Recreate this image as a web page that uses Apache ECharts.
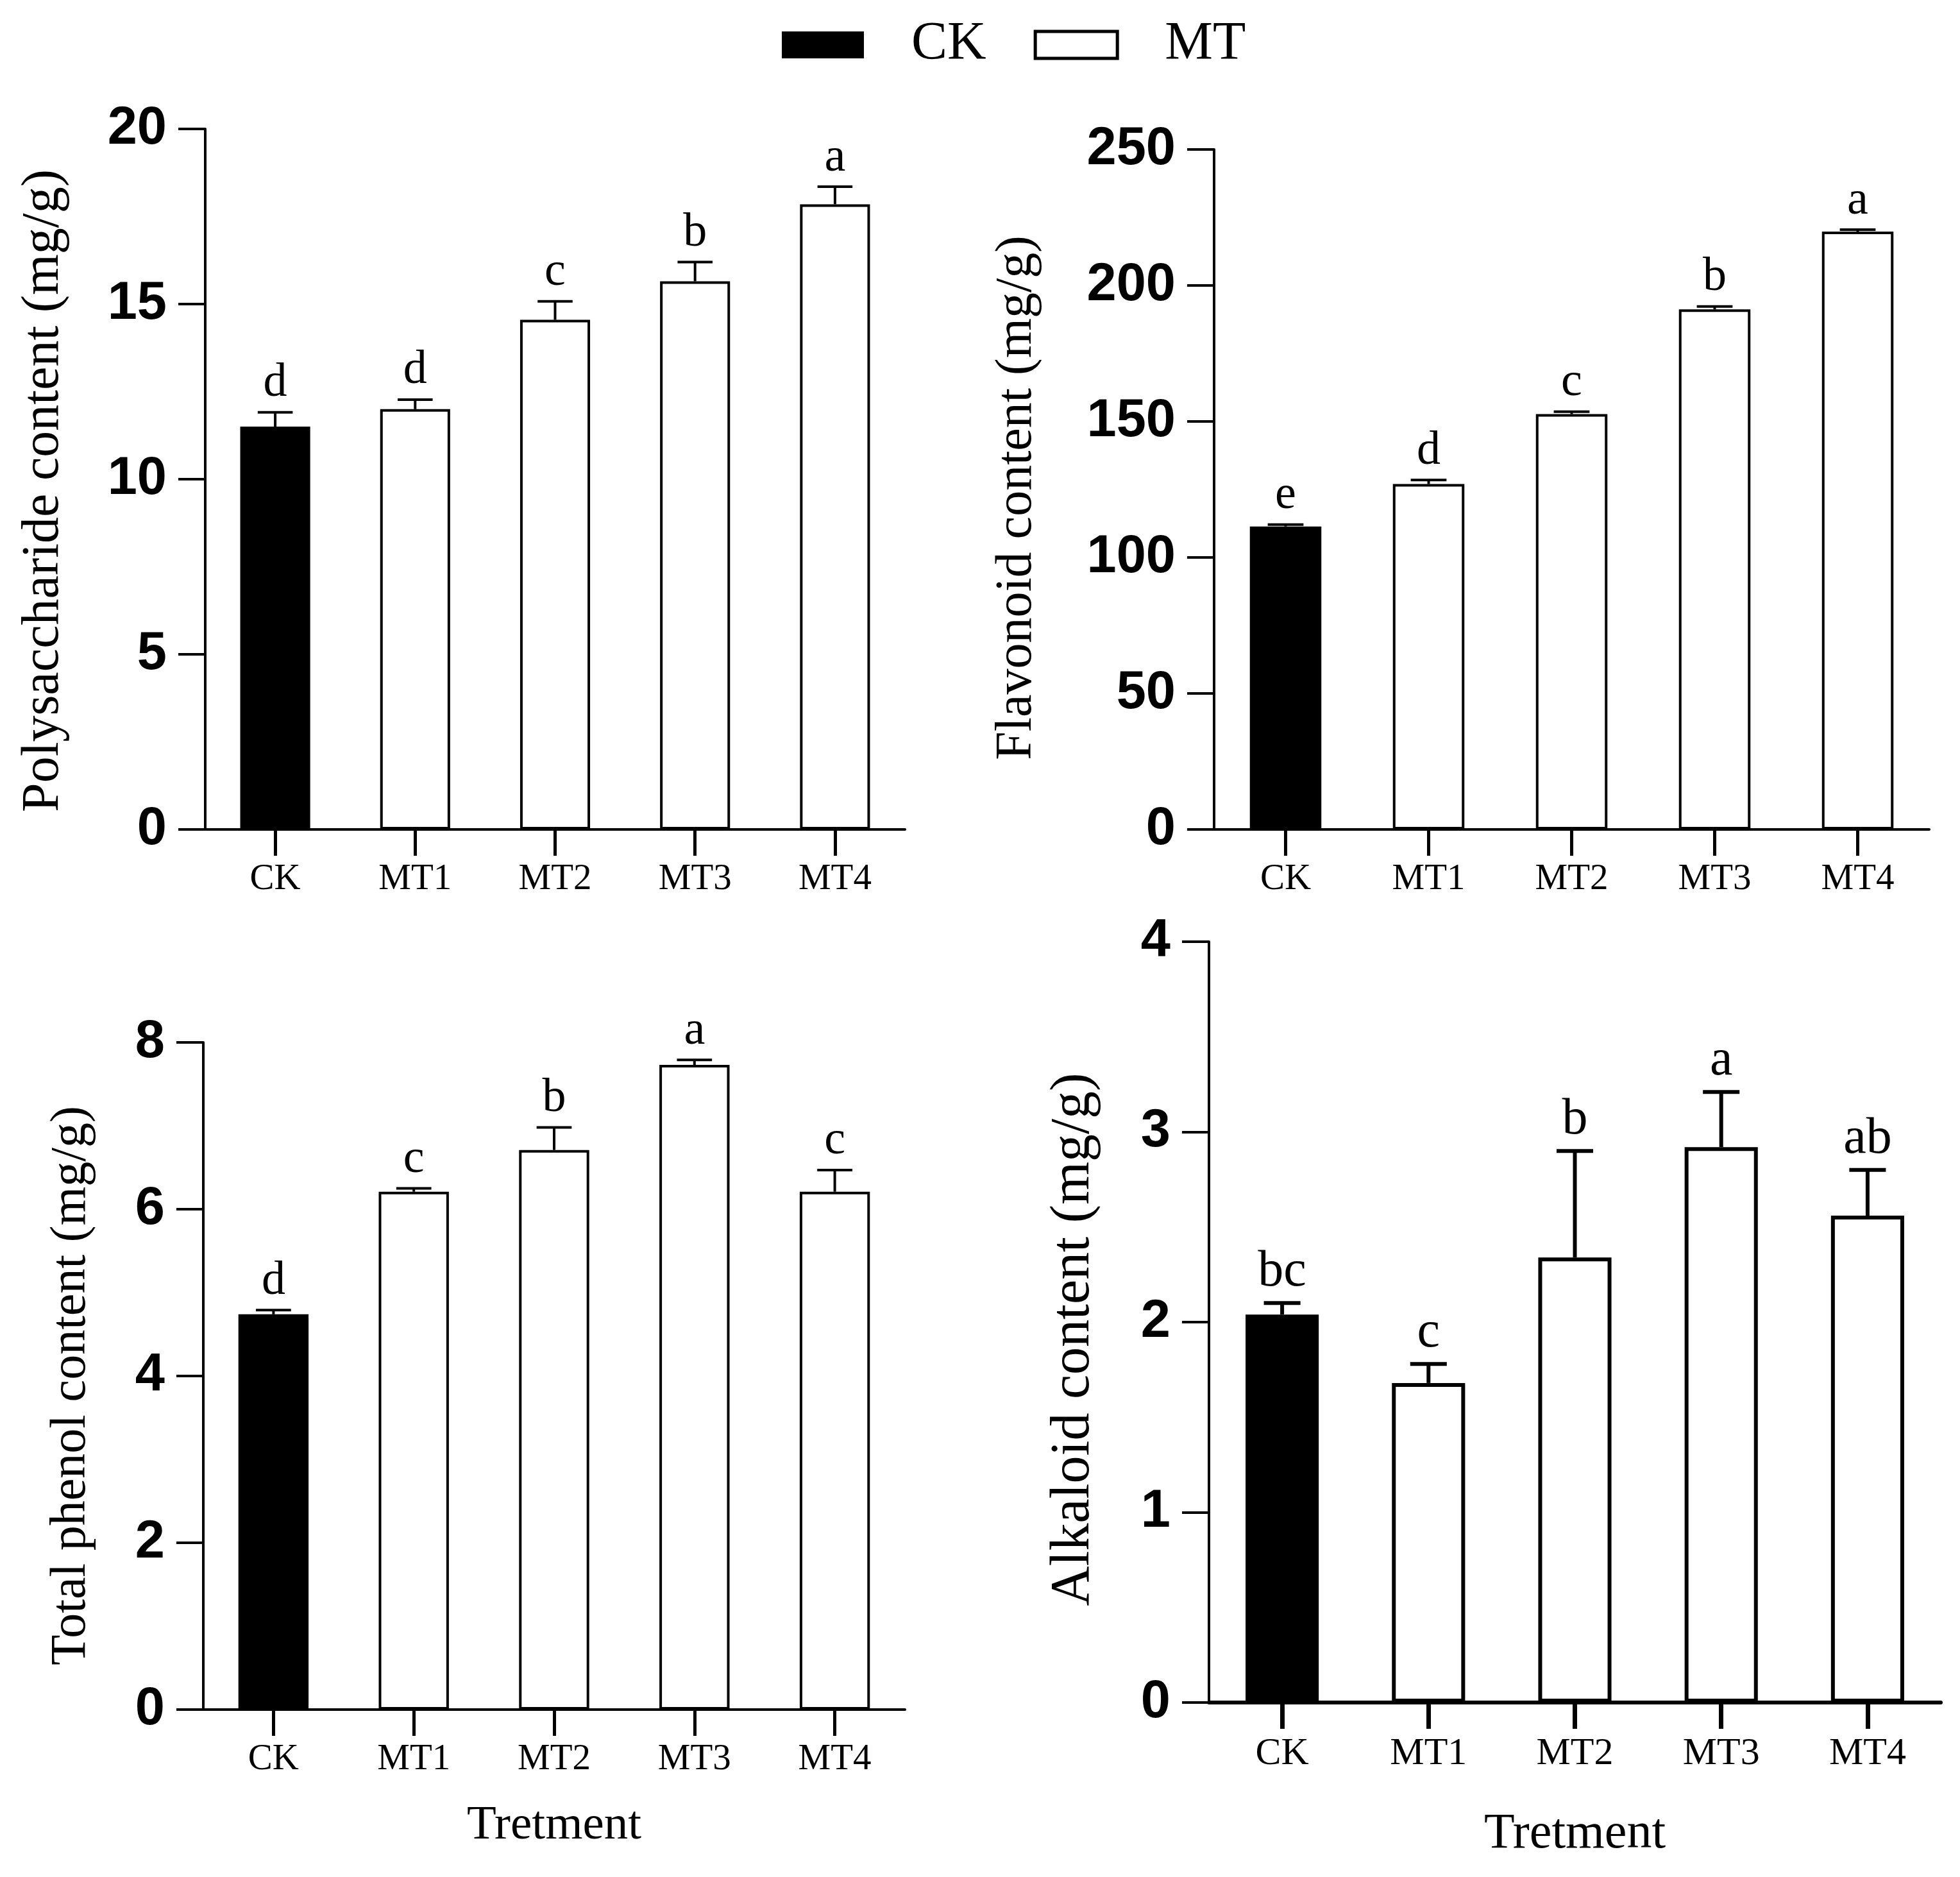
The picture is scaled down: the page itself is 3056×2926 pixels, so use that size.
<!DOCTYPE html>
<html>
<head>
<meta charset="utf-8">
<script src="https://cdn.jsdelivr.net/npm/echarts@6/dist/echarts.min.js"></script>
<style>html,body{margin:0;padding:0;background:#fff;}#c{width:3056px;height:2926px;}</style>
</head>
<body>
<div id="c"></div>
<script>
const categories = ['CK', 'MT1', 'MT2', 'MT3', 'MT4'];

const polyMean = [11.5, 12.0, 14.55, 15.65, 17.85];
const polyErr = [0.41, 0.27, 0.53, 0.55, 0.5];
const polyLetters = ['d', 'd', 'c', 'b', 'a'];

const flavMean = [111.4, 127.0, 152.7, 191.2, 219.8];
const flavErr = [0.7, 1.5, 0.9, 1.1, 0.7];
const flavLetters = ['e', 'd', 'c', 'b', 'a'];

const phenolMean = [4.74, 6.21, 6.71, 7.73, 6.21];
const phenolErr = [0.05, 0.04, 0.27, 0.06, 0.26];
const phenolLetters = ['d', 'c', 'b', 'a', 'c'];

const alkMean = [2.04, 1.68, 2.34, 2.92, 2.56];
const alkErr = [0.06, 0.10, 0.56, 0.29, 0.24];
const alkLetters = ['bc', 'c', 'b', 'a', 'ab'];

const yTicks = [
  {min: 0, max: 20, interval: 5},
  {min: 0, max: 250, interval: 50},
  {min: 0, max: 8, interval: 2},
  {min: 0, max: 4, interval: 1}
];
const yNames = ['Polysaccharide content (mg/g)', 'Flavonoid content (mg/g)', 'Total phenol content (mg/g)', 'Alkaloid content (mg/g)'];
const xName = 'Tretment';

const SERIF = 'Liberation Serif, Times New Roman, serif';
const SANS = 'Liberation Sans, Arial, sans-serif';

const panels = [
  {mean: polyMean, err: polyErr, letters: polyLetters, grid: {left: 320, top: 201, width: 1091, height: 1092}, nameGap: 211, nameFs: 82, namePad: 36, xname: false, catFs: 57, letFs: 74, lw: 4},
  {mean: flavMean, err: flavErr, letters: flavLetters, grid: {left: 1893, top: 233, width: 1115, height: 1060}, nameGap: 267, nameFs: 80, namePad: 26, xname: false, catFs: 57, letFs: 74, lw: 4},
  {mean: phenolMean, err: phenolErr, letters: phenolLetters, grid: {left: 317, top: 1625, width: 1094, height: 1040}, nameGap: 166, nameFs: 78, namePad: 30, xname: true, xGap: 144, xFs: 75, catFs: 57, letFs: 74, lw: 4},
  {mean: alkMean, err: alkErr, letters: alkLetters, grid: {left: 1885, top: 1468, width: 1141, height: 1186}, nameGap: 168, nameFs: 86, namePad: 54, xname: true, xGap: 167, xFs: 78, catFs: 60, letFs: 80, lw: 6}
];

const option = {
  animation: false,
  backgroundColor: '#fff',
  legend: {
    left: 1214, top: 23,
    itemWidth: 128, itemHeight: 42, itemGap: 74,
    icon: 'rect',
    textStyle: {fontFamily: SERIF, fontSize: 84, color: '#000', padding: [0, 0, 0, 69]},
    data: [
      {name: 'CK', itemStyle: {color: '#000', borderColor: '#000', borderWidth: 0}},
      {name: 'MT', itemStyle: {color: '#fff', borderColor: '#000', borderWidth: 5}}
    ]
  },
  grid: [], xAxis: [], yAxis: [], series: []
};

panels.forEach((p, k) => {
  option.grid.push(Object.assign({containLabel: false}, p.grid));
  option.xAxis.push({
    type: 'category', gridIndex: k, data: categories, boundaryGap: true,
    name: p.xname ? xName : '', nameLocation: 'middle', nameGap: p.xGap || 0,
    nameTextStyle: {fontFamily: SERIF, fontSize: p.xFs || 70, color: '#000'},
    axisLine: {show: true, lineStyle: {color: '#000', width: p.lw}},
    axisTick: {show: true, alignWithLabel: true, length: 41, lineStyle: {color: '#000', width: p.lw + 1}},
    axisLabel: {fontFamily: SERIF, fontSize: p.catFs, color: '#000', margin: 50},
    splitLine: {show: false}
  });
  option.yAxis.push({
    type: 'value', gridIndex: k, min: yTicks[k].min, max: yTicks[k].max, interval: yTicks[k].interval,
    name: yNames[k], nameLocation: 'middle', nameGap: p.nameGap,
    nameTextStyle: {fontFamily: SERIF, fontSize: p.nameFs, color: '#000', padding: [0, p.namePad, 0, 0]},
    axisLine: {show: true, lineStyle: {color: '#000', width: 4}},
    axisTick: {show: true, length: 42, lineStyle: {color: '#000', width: 4}},
    axisLabel: {fontFamily: SANS, fontWeight: 'bold', fontSize: 83, color: '#000', margin: 60},
    splitLine: {show: false}
  });
  option.series.push({
    name: 'CK', type: 'bar', xAxisIndex: k, yAxisIndex: k, barWidth: '50%', barGap: '-100%',
    itemStyle: {color: '#000', borderColor: '#000', borderWidth: p.lw},
    data: p.mean.map((v, i) => i === 0 ? v : '-')
  });
  option.series.push({
    name: 'MT', type: 'bar', xAxisIndex: k, yAxisIndex: k, barWidth: '50%', barGap: '-100%',
    itemStyle: {color: '#fff', borderColor: '#000', borderWidth: p.lw},
    data: p.mean.map((v, i) => i === 0 ? '-' : v)
  });
  const letters = p.letters;
  const letFs = p.letFs;
  const lw = p.lw;
  option.series.push({
    type: 'custom', xAxisIndex: k, yAxisIndex: k, z: 5,
    encode: {x: 0, y: 1},
    data: p.mean.map((v, i) => [i, v, p.err[i]]),
    renderItem: function (params, api) {
      const i = api.value(0), m = api.value(1), e = api.value(2);
      const base = api.coord([i, m]);
      const top = api.coord([i, m + e]);
      const bw = api.size([1, 0])[0] * 0.5;
      const hw = bw * 0.25;
      return {
        type: 'group',
        children: [
          {type: 'line', shape: {x1: base[0], y1: base[1], x2: top[0], y2: top[1]}, style: {stroke: '#000', lineWidth: lw}},
          {type: 'line', shape: {x1: top[0] - hw, y1: top[1], x2: top[0] + hw, y2: top[1]}, style: {stroke: '#000', lineWidth: lw}},
          {type: 'text', x: top[0], y: top[1] - 8, style: {text: letters[params.dataIndex], fontFamily: SERIF, fontSize: letFs, fill: '#000', align: 'center', verticalAlign: 'bottom'}}
        ]
      };
    }
  });
});

const chart = echarts.init(document.getElementById('c'), null, {renderer: 'canvas', devicePixelRatio: 1});
chart.setOption(option);
</script>
</body>
</html>
